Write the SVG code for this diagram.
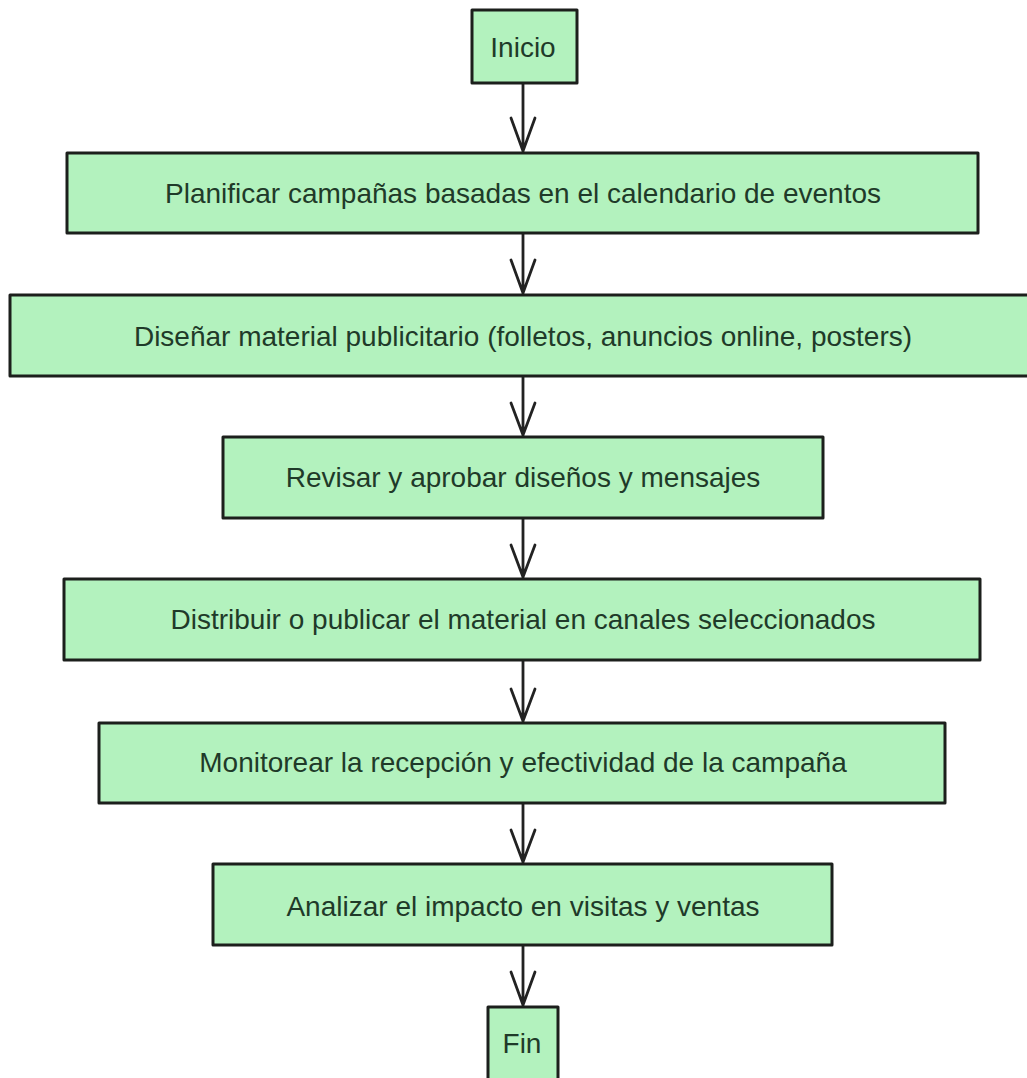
<svg xmlns="http://www.w3.org/2000/svg" width="1027" height="1078" viewBox="0 0 1027 1078">
  <defs>
    <style>
      .box { fill: #b3f2be; stroke: #1c1f1c; stroke-width: 3; stroke-linejoin: round; }
      .lbl { font-family: "Liberation Sans", Arial, sans-serif; font-size: 28px; fill: #1f3a29; text-anchor: middle; dominant-baseline: central; }
      .edge { fill: none; stroke: #222; stroke-width: 2.8; stroke-linecap: round; stroke-linejoin: round; }
    </style>
  </defs>
  <rect width="1027" height="1078" fill="#ffffff"/>

  <g id="connectors">
    <path class="edge" d="M523 83 L523 152 M511 118 L523 151 L535 118"/>
    <path class="edge" d="M523 233 L523 294 M511 260 L523 293 L535 260"/>
    <path class="edge" d="M523 377 L523 436 M511 403 L523 435 L535 403"/>
    <path class="edge" d="M523 518 L523 578 M511 545 L523 577 L535 545"/>
    <path class="edge" d="M523 660 L523 722 M511 689 L523 721 L535 689"/>
    <path class="edge" d="M523 803 L523 863 M511 830 L523 862 L535 830"/>
    <path class="edge" d="M523 945 L523 1006 M511 972 L523 1005 L535 972"/>
  </g>

  <g id="n-inicio">
    <rect class="box" x="472" y="10" width="105" height="73"/>
    <text class="lbl" x="523" y="47">Inicio</text>
  </g>
  <g id="n-planificar">
    <rect class="box" x="67" y="153" width="911" height="80"/>
    <text class="lbl" x="523" y="193">Planificar campañas basadas en el calendario de eventos</text>
  </g>
  <g id="n-disenar">
    <rect class="box" x="10" y="295" width="1030" height="81"/>
    <text class="lbl" x="523" y="336">Diseñar material publicitario (folletos, anuncios online, posters)</text>
  </g>
  <g id="n-revisar">
    <rect class="box" x="223" y="437" width="600" height="81"/>
    <text class="lbl" x="523" y="477">Revisar y aprobar diseños y mensajes</text>
  </g>
  <g id="n-distribuir">
    <rect class="box" x="64" y="579" width="916" height="81"/>
    <text class="lbl" x="523" y="619">Distribuir o publicar el material en canales seleccionados</text>
  </g>
  <g id="n-monitorear">
    <rect class="box" x="99" y="723" width="846" height="80"/>
    <text class="lbl" x="523" y="762">Monitorear la recepción y efectividad de la campaña</text>
  </g>
  <g id="n-analizar">
    <rect class="box" x="213" y="864" width="619" height="81"/>
    <text class="lbl" x="523" y="906">Analizar el impacto en visitas y ventas</text>
  </g>
  <g id="n-fin">
    <rect class="box" x="488" y="1007" width="70" height="80"/>
    <text class="lbl" x="522" y="1043">Fin</text>
  </g>
</svg>
